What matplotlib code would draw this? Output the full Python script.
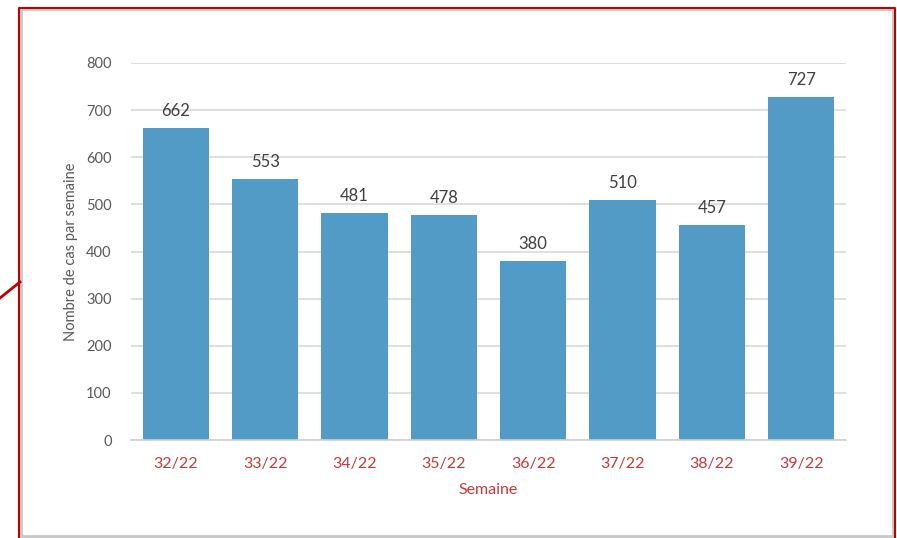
import matplotlib
matplotlib.use("Agg")
import matplotlib.pyplot as plt
from matplotlib.patches import Rectangle
from matplotlib.lines import Line2D

weeks = ["32/22", "33/22", "34/22", "35/22", "36/22", "37/22", "38/22", "39/22"]
cases = [662, 553, 481, 478, 380, 510, 457, 727]
yticks = [0, 100, 200, 300, 400, 500, 600, 700, 800]

plt.rcParams['font.family'] = ['Lato', 'DejaVu Sans']

W, H = 897, 538
fig = plt.figure(figsize=(W / 100, H / 100), dpi=100)
fig.patch.set_facecolor('white')

# frame decorations
fig.add_artist(Rectangle((21 / W, 1 - 536 / H), (893 - 21) / W, (536 - 9) / H,
                         transform=fig.transFigure, fill=False, edgecolor='#c8c8c8', lw=2.0))
fig.add_artist(Line2D([19 / W, 19 / W, 895 / W, 895 / W], [0, 1 - 8 / H, 1 - 8 / H, 0],
                      transform=fig.transFigure, color='#c00000', lw=1.5))
fig.add_artist(Line2D([0, 20 / W], [1 - 298 / H, 1 - 282 / H],
                      transform=fig.transFigure, color='#c00000', lw=2.0))

ax = fig.add_axes([131 / W, 1 - 440 / H, (846 - 131) / W, (440 - 63) / H])
x = range(len(weeks))
bars = ax.bar(x, cases, width=0.74, color='#529BC6', zorder=3)
for xi, v in zip(x, cases):
    ax.text(xi, v + 19, str(v), ha='center', va='bottom', fontsize=12, color='#404040')

ax.set_xlim(-0.5, len(weeks) - 0.5)
ax.set_ylim(0, 800)
ax.set_yticks(yticks)
ax.set_yticklabels([str(t) for t in yticks], fontsize=10.5, color='#595959')
ax.set_xticks(list(x))
ax.set_xticklabels(weeks, fontsize=11.5, color='#c8383a')
ax.tick_params(axis='x', length=0, pad=12)
ax.tick_params(axis='y', length=0, pad=14)
ax.grid(axis='y', color='#d9d9d9', lw=1.2, zorder=0)
for s in ['top', 'right', 'left']:
    ax.spines[s].set_visible(False)
ax.spines['bottom'].set_color('#d0d0d0')
ax.spines['bottom'].set_linewidth(1.2)
ax.spines['bottom'].set_zorder(4)

ax.set_xlabel('Semaine', fontsize=11.5, color='#c8383a', labelpad=9)
ax.set_ylabel('Nombre de cas par semaine', fontsize=10.5, color='#595959', labelpad=6)

fig.savefig('out.png', dpi=100, facecolor='white')
